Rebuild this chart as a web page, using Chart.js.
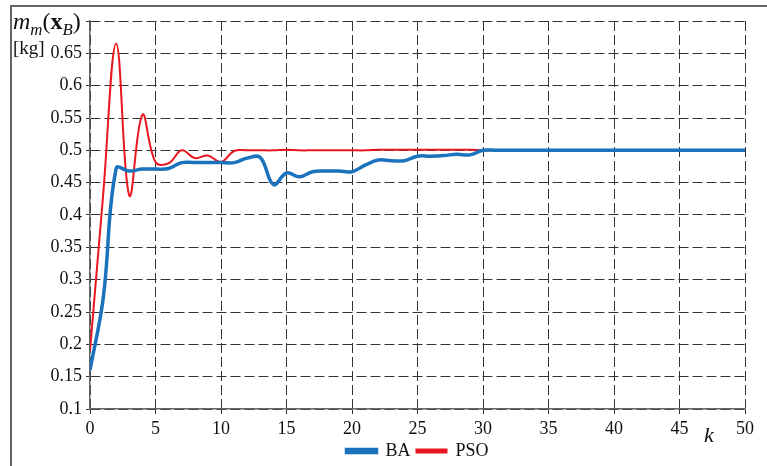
<!DOCTYPE html>
<html>
<head>
<meta charset="utf-8">
<script src="https://cdn.jsdelivr.net/npm/chart.js@4/dist/chart.umd.min.js"></script>
<style>
  body { margin: 0; background: #fff; }
  #wrap { position: relative; width: 767px; height: 466px; overflow: hidden; }
  #frame { position: absolute; left: 10px; top: 5px; width: 800px; height: 500px;
           border-left: 2px solid #666; border-top: 2px solid #666; }
  .lbl { position: absolute; font-family: "Liberation Serif", serif; color: #111; white-space: nowrap; }
  sub { font-size: 70%; }
</style>
</head>
<body>
<div id="wrap">
  <div id="frame"></div>
  <canvas id="chart" width="767" height="466"></canvas>
  <div class="lbl" style="left:13px; top:8px; font-size:24px;"><i>m</i><sub><i>m</i></sub>(<b>x</b><sub><i>B</i></sub>)</div>
  <div class="lbl" style="left:13px; top:37px; font-size:19px;">[kg]</div>
  <div class="lbl" style="left:704px; top:422px; font-size:22px;"><i>k</i></div>
</div>
<script>
// iteration index k
const iterations = Array.from({ length: 51 }, (_, i) => i);

// BA objective value per iteration
const baValues = [
  0.16, 0.27, 0.472, 0.468, 0.471, 0.471, 0.472, 0.481, 0.481, 0.481,
  0.481, 0.481, 0.488, 0.489, 0.447, 0.465, 0.459, 0.467, 0.468, 0.468,
  0.467, 0.477, 0.485, 0.484, 0.484, 0.491, 0.491, 0.492, 0.494, 0.493,
  0.5, 0.5, 0.5, 0.5, 0.5, 0.5, 0.5, 0.5, 0.5, 0.5,
  0.5, 0.5, 0.5, 0.5, 0.5, 0.5, 0.5, 0.5, 0.5, 0.5, 0.5
];

// PSO objective value per iteration
const psoValues = [
  0.19, 0.43, 0.665, 0.43, 0.555, 0.482, 0.48, 0.5, 0.488, 0.492,
  0.482, 0.499, 0.5, 0.5, 0.5, 0.501, 0.5, 0.5, 0.5, 0.5,
  0.5, 0.5, 0.501, 0.501, 0.501, 0.501, 0.501, 0.501, 0.501, 0.501,
  0.5, 0.5, 0.5, 0.5, 0.5, 0.5, 0.5, 0.5, 0.5, 0.5,
  0.5, 0.5, 0.5, 0.5, 0.5, 0.5, 0.5, 0.5, 0.5, 0.5, 0.5
];

const serif = '"Liberation Serif", "Times New Roman", serif';

const ctx = document.getElementById('chart').getContext('2d');
new Chart(ctx, {
    type: 'line',
    data: {
        labels: iterations,
        datasets: [{
            label: 'BA',
            data: baValues,
            borderColor: '#1b72bd',
            backgroundColor: '#5b9bd5', // legend swatch
            borderWidth: 3.5,
            pointRadius: 0,
            tension: 0.4,
            order: 1,
        }, {
            label: 'PSO',
            data: psoValues,
            borderColor: '#e8161e',
            backgroundColor: '#e8161e',
            borderWidth: 2,
            pointRadius: 0,
            tension: 0.4,
            order: 2,
        }],
    },
    options: {
        responsive: false,
        animation: false,
        layout: {
            padding: { top: 21, right: 22, left: 0, bottom: -4 },
        },
        plugins: {
            legend: {
                position: 'bottom',
                fullSize: false,
                labels: {
                    boxWidth: 30,
                    boxHeight: 3,
                    padding: 6,
                    color: '#111',
                    font: { family: serif, size: 18 },
                },
            },
            tooltip: { enabled: false },
        },
        scales: {
            x: {
                type: 'linear',
                min: 0,
                max: 50,
                ticks: {
                    stepSize: 5,
                    padding: 4,
                    color: '#111',
                    font: { family: serif, size: 18 },
                },
                grid: {
                    color: '#333',
                    lineWidth: 1,
                    tickLength: 5,
                },
                border: {
                    display: true,
                    color: '#666',
                    width: 1.5,
                    dash: [10, 4],
                },
                afterFit: (scale) => { scale.height = 27; },
            },
            y: {
                min: 0.1,
                max: 0.7,
                ticks: {
                    stepSize: 0.05,
                    padding: 4,
                    color: '#111',
                    font: { family: serif, size: 18 },
                    callback: (v) => v > 0.69 ? '' : String(parseFloat(v.toFixed(2))),
                },
                grid: {
                    color: '#333',
                    lineWidth: 1,
                    tickLength: 4,
                },
                border: {
                    display: true,
                    color: '#666',
                    width: 1.5,
                    dash: [10, 4],
                },
                afterFit: (scale) => { scale.width = 90; },
            },
        },
    },
});
</script>
</body>
</html>
